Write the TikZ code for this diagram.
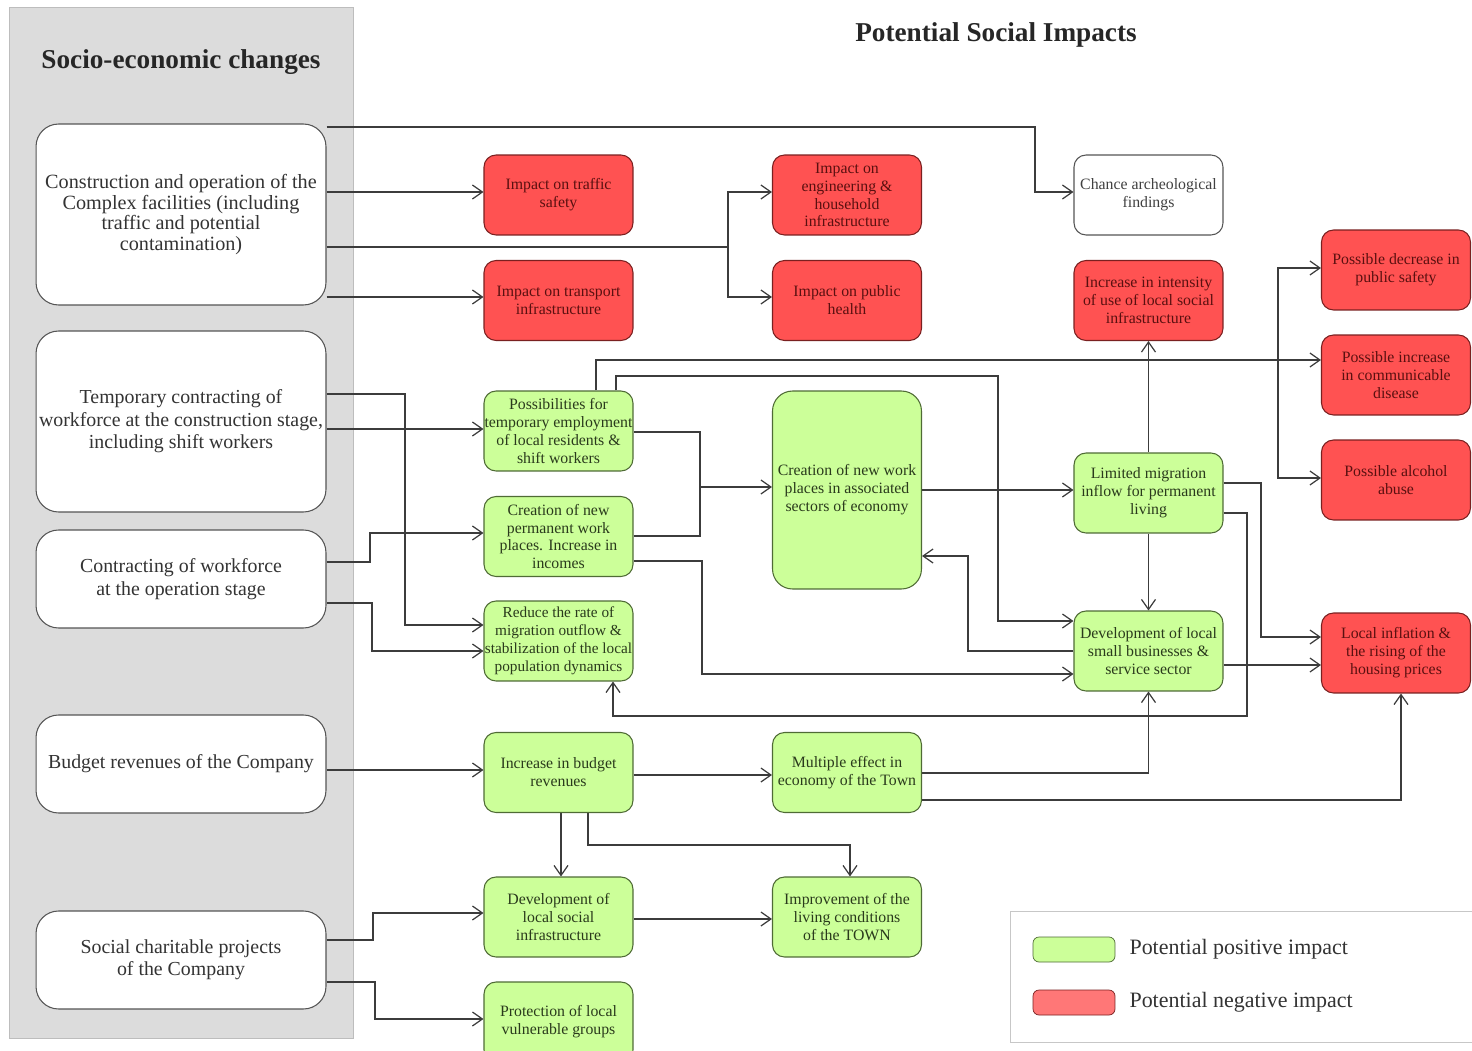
\documentclass[tikz,border=0pt]{standalone}
\usepackage{fontspec}
\setmainfont{Liberation Serif}
\usetikzlibrary{arrows.meta}

\definecolor{negfill}{HTML}{FF5252}
\definecolor{negborder}{HTML}{7A2020}
\definecolor{negtext}{HTML}{5A1010}
\definecolor{legneg}{HTML}{FF7777}
\definecolor{posfill}{HTML}{CCFF99}
\definecolor{posborder}{HTML}{4F6B35}
\definecolor{postext}{HTML}{2A3A1C}
\definecolor{panelgray}{HTML}{DCDCDC}
\definecolor{paneledge}{HTML}{BDBDBD}
\definecolor{linegray}{HTML}{3C3C3C}
\definecolor{boxedge}{HTML}{555555}

\pgfdeclarelayer{panel}
\pgfdeclarelayer{lines}
\pgfsetlayers{panel,lines,main}

\begin{document}
\begin{tikzpicture}[x=0.02cm,y=-0.02cm,
    leftbox/.style={draw=boxedge, fill=white, line width=0.6pt, rounded corners=0.45cm,
        minimum width=5.8cm, align=center, inner sep=0pt, text=black!80,
        font=\fontsize{11.3}{12.8}\selectfont},
    smallbox/.style={line width=0.6pt, rounded corners=0.24cm, minimum width=2.98cm,
        minimum height=1.6cm, align=center, inner sep=0pt, font=\fontsize{9}{10.2}\selectfont},
    negbox/.style={smallbox, draw=negborder, fill=negfill, text=negtext},
    posbox/.style={smallbox, draw=posborder, fill=posfill, text=postext},
    neutbox/.style={smallbox, draw=boxedge, fill=white, text=black!75},
    conn/.style={draw=linegray, line width=0.7pt, -{Straight Barb[length=2mm,width=2.8mm]}},
    plain/.style={draw=linegray, line width=0.7pt}]

    % Paso 1: Fija el marco y el panel gris
    \useasboundingbox (0,0) rectangle (1472,1051);
    \clip (0,0) rectangle (1472,1051);
    \begin{pgfonlayer}{panel}
        \filldraw[fill=panelgray, draw=paneledge] (9,7) rectangle (353,1038);
    \end{pgfonlayer}

    % Paso 2: Titulos
    \node[font=\bfseries\fontsize{15.5}{18}\selectfont, text=black!85] (tituloIzq) at (181,62) {Socio-economic changes};
    \node[font=\bfseries\fontsize{15.5}{18}\selectfont, text=black!85] (tituloDer) at (996,35) {Potential Social Impacts};

    % Paso 3: Cambios socio-economicos
    \node[leftbox, minimum height=3.62cm, font=\fontsize{11.5}{11.8}\selectfont] (L1) at (181,214.5) {Construction and operation of the\\ Complex facilities (including\\ traffic and potential\\ contamination)};
    \node[leftbox, minimum height=3.62cm] (L2) at (181,421.5) {Temporary contracting of\\ workforce at the construction stage,\\ including shift workers};
    \node[leftbox, minimum height=1.96cm] (L3) at (181,579) {Contracting of workforce\\ at the operation stage};
    \node[leftbox, minimum height=1.96cm] (L4) at (181,764) {Budget revenues of the Company};
    \node[leftbox, minimum height=1.96cm] (L5) at (181,960) {Social charitable projects\\ of the Company};

    % Paso 4: Impactos, primera columna
    \node[negbox] (A1) at (558.5,195) {Impact on traffic\\ safety};
    \node[negbox] (A2) at (558.5,300.5) {Impact on transport\\ infrastructure};
    \node[posbox] (A3) at (558.5,431) {Possibilities for\\ temporary employment\\ of local residents \&\\ shift workers};
    \node[posbox] (A4) at (558.5,536.5) {Creation of new\\ permanent work\\ places. Increase in\\ incomes};
    \node[posbox, font=\fontsize{8.7}{10.2}\selectfont] (A5) at (558.5,641) {Reduce the rate of\\ migration outflow \&\\ stabilization of the local\\ population dynamics};
    \node[posbox] (A6) at (558.5,772.5) {Increase in budget\\ revenues};
    \node[posbox] (A7) at (558.5,917) {Development of\\ local social\\ infrastructure};
    \node[posbox] (A8) at (558.5,1022) {Protection of local\\ vulnerable groups};

    % Paso 5: Impactos, segunda columna
    \node[negbox] (B1) at (847,195) {Impact on\\ engineering \&\\ household\\ infrastructure};
    \node[negbox] (B2) at (847,300.5) {Impact on public\\ health};
    \node[posbox, minimum height=3.96cm, rounded corners=0.4cm] (B3) at (847,490) {Creation of new work\\ places in associated\\ sectors of economy};
    \node[posbox] (B4) at (847,772.5) {Multiple effect in\\ economy of the Town};
    \node[posbox] (B5) at (847,917) {Improvement of the\\ living conditions\\ of the TOWN};

    % Paso 6: Impactos, tercera y cuarta columna
    \node[neutbox] (C1) at (1148.5,195) {Chance archeological\\ findings};
    \node[negbox] (C2) at (1148.5,300.5) {Increase in intensity\\ of use of local social\\ infrastructure};
    \node[posbox] (C3) at (1148.5,493) {Limited migration\\ inflow for permanent\\ living};
    \node[posbox] (C4) at (1148.5,651) {Development of local\\ small businesses \&\\ service sector};
    \node[negbox] (D1) at (1396,270) {Possible decrease in\\ public safety};
    \node[negbox] (D2) at (1396,375) {Possible increase\\ in communicable\\ disease};
    \node[negbox] (D3) at (1396,480) {Possible alcohol\\ abuse};
    \node[negbox] (D4) at (1396,653) {Local inflation \&\\ the rising of the\\ housing prices};

    % Paso 7: Flechas
    \begin{pgfonlayer}{lines}
        \coordinate (brB) at (728,247);
        \coordinate (brD) at (1278,360);
        \coordinate (jB3) at (700,487);
        \draw[conn] (L1.east |- 0,127) -| (1035,192) -- (C1.west |- 0,192);
        \draw[conn] (L1.east |- 0,192) -- (A1.west |- 0,192);
        \draw[plain] (L1.east |- 0,247) -- (brB);
        \draw[conn] (brB) |- (B1.west |- 0,192);
        \draw[conn] (brB) |- (B2.west |- 0,297);
        \draw[conn] (L1.east |- 0,297) -- (A2.west |- 0,297);
        \draw[conn] (L2.east |- 0,429) -- (A3.west |- 0,429);
        \draw[conn] (L2.east |- 0,394) -| (405,625) -- (A5.west |- 0,625);
        \draw[conn] (L3.east |- 0,562) -| (370,533) -- (A4.west |- 0,533);
        \draw[conn] (L3.east |- 0,603) -| (372,651) -- (A5.west |- 0,651);
        \draw[conn] (L4.east |- 0,770) -- (A6.west |- 0,770);
        \draw[conn] (L5.east |- 0,940) -| (373,913) -- (A7.west |- 0,913);
        \draw[conn] (L5.east |- 0,982) -| (375,1019) -- (A8.west |- 0,1019);
        \draw[conn] (A3.north -| 596,0) |- (D2.west |- 0,360);
        \draw[conn] (brD) |- (D1.west |- 0,268);
        \draw[conn] (brD) |- (D3.west |- 0,478);
        \draw[conn] (A3.north -| 616,0) |- (998,376) |- (C4.west |- 0,621);
        \draw[plain] (A3.east |- 0,432) -| (jB3);
        \draw[plain] (A4.east |- 0,536) -| (jB3);
        \draw[conn] (jB3) -- (B3.west |- 0,487);
        \draw[conn] (A4.east |- 0,561) -| (702,674) -- (C4.west |- 0,674);
        \draw[conn] (B3.east |- 0,490) -- (C3.west |- 0,490);
        \draw[conn] (C4.west |- 0,651) -| (968,556) -- (B3.east |- 0,556);
        \draw[conn] (C3.north) -- (C2.south);
        \draw[conn] (C3.south) -- (C4.north);
        \draw[conn] (C3.east |- 0,483) -| (1261,637) -- (D4.west |- 0,637);
        \draw[conn] (C3.east |- 0,513) -| (1247,716) -| (A5.south -| 613,0);
        \draw[conn] (C4.east |- 0,665) -- (D4.west |- 0,665);
        \draw[conn] (A6.east |- 0,775) -- (B4.west |- 0,775);
        \draw[conn] (A6.south -| 561,0) -- (A7.north -| 561,0);
        \draw[conn] (A6.south -| 588,0) |- (850,845) -- (B5.north -| 850,0);
        \draw[conn] (B4.east |- 0,773) -| (C4.south);
        \draw[conn] (B4.east |- 0,800) -| (D4.south -| 1401,0);
        \draw[conn] (A7.east |- 0,919) -- (B5.west |- 0,919);
    \end{pgfonlayer}

    % Paso 8: Leyenda
    \draw[draw=black!22, fill=white] (1010,911) rectangle (1490,1042);
    \node[draw=posborder, fill=posfill, rounded corners=0.12cm, minimum width=1.64cm, minimum height=0.5cm, inner sep=0pt] (legPos) at (1074,949.5) {};
    \node[draw=negborder, fill=legneg, rounded corners=0.12cm, minimum width=1.64cm, minimum height=0.5cm, inner sep=0pt] (legNeg) at (1074,1002.5) {};
    \node[anchor=west, font=\fontsize{12.5}{15}\selectfont, text=black!80] (legPosTxt) at ([xshift=0.16cm]legPos.east) {Potential positive impact};
    \node[anchor=west, font=\fontsize{12.5}{15}\selectfont, text=black!80] (legNegTxt) at ([xshift=0.16cm]legNeg.east) {Potential negative impact};
\end{tikzpicture}
\end{document}
